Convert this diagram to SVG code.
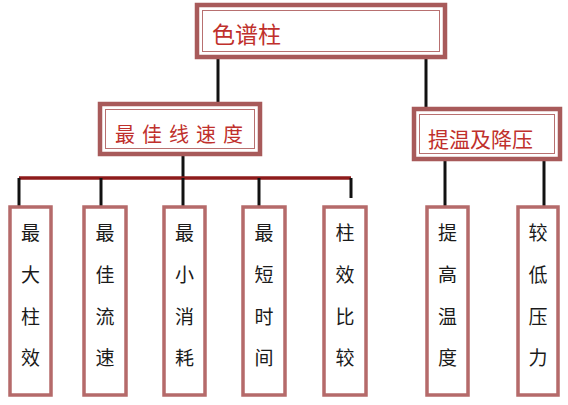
<svg xmlns="http://www.w3.org/2000/svg" width="568" height="405" viewBox="0 0 568 405">
<style>
.outer{fill:#fff;stroke:#a85a5a;stroke-width:4.5}
.inner{fill:none;stroke:#b87070;stroke-width:1}
.leaf{fill:#fff;stroke:#b56a6a;stroke-width:3.5}
.ttl{font-family:"Noto Sans CJK SC","Liberation Sans",sans-serif;fill:#c0302c}
.lt{font-family:"Noto Sans CJK SC","Liberation Sans",sans-serif;fill:#1a1a1a;font-size:19px;text-anchor:middle}
.ln{stroke:#111;stroke-width:3;fill:none}
.bar{stroke:#8e1b1b;stroke-width:3.5;fill:none}
</style>
<rect width="568" height="405" fill="#fff"/>
<g id="connectors">
<line class="ln" x1="218" y1="59" x2="218" y2="103"/>
<line class="ln" x1="426" y1="59" x2="426" y2="108"/>
<line class="ln" x1="183" y1="156" x2="183" y2="178"/>
<line class="bar" x1="19" y1="178" x2="351" y2="178"/>
<line class="ln" x1="19" y1="178" x2="19" y2="206"/>
<line class="ln" x1="101" y1="178" x2="101" y2="206"/>
<line class="ln" x1="183" y1="178" x2="183" y2="206"/>
<line class="ln" x1="259" y1="178" x2="259" y2="206"/>
<line class="ln" x1="351" y1="178" x2="351" y2="198"/>
<line class="ln" x1="445" y1="161" x2="445" y2="206"/>
<line class="ln" x1="544" y1="161" x2="544" y2="206"/>
</g>
<g id="root">
<rect class="outer" x="197" y="5" width="248" height="52"/>
<rect class="inner" x="202.5" y="10.5" width="237" height="41"/>
<text class="ttl" x="212" y="43" font-size="23">色谱柱</text>
</g>
<g id="speed">
<rect class="outer" x="100" y="104" width="160" height="50"/>
<rect class="inner" x="105.5" y="109.5" width="149" height="39"/>
<text class="ttl" x="115" y="142" font-size="20" letter-spacing="7">最佳线速度</text>
</g>
<g id="temp">
<rect class="outer" x="414" y="109" width="146" height="50"/>
<rect class="inner" x="419.5" y="114.5" width="135" height="39"/>
<text class="ttl" x="428" y="147" font-size="21">提温及降压</text>
</g>
<g id="leaf1"><rect class="leaf" x="10" y="207" width="41" height="188"/>
<text class="lt" x="30.5"><tspan x="30.5" y="240">最</tspan><tspan x="30.5" y="282">大</tspan><tspan x="30.5" y="324">柱</tspan><tspan x="30.5" y="365">效</tspan></text></g>
<g id="leaf2"><rect class="leaf" x="84" y="207" width="42" height="188"/>
<text class="lt"><tspan x="105" y="240">最</tspan><tspan x="105" y="282">佳</tspan><tspan x="105" y="324">流</tspan><tspan x="105" y="365">速</tspan></text></g>
<g id="leaf3"><rect class="leaf" x="164" y="207" width="41" height="188"/>
<text class="lt"><tspan x="184.5" y="240">最</tspan><tspan x="184.5" y="282">小</tspan><tspan x="184.5" y="324">消</tspan><tspan x="184.5" y="365">耗</tspan></text></g>
<g id="leaf4"><rect class="leaf" x="243" y="207" width="42" height="188"/>
<text class="lt"><tspan x="264" y="240">最</tspan><tspan x="264" y="282">短</tspan><tspan x="264" y="324">时</tspan><tspan x="264" y="365">间</tspan></text></g>
<g id="leaf5"><rect class="leaf" x="324" y="207" width="42" height="188"/>
<text class="lt"><tspan x="345" y="240">柱</tspan><tspan x="345" y="282">效</tspan><tspan x="345" y="324">比</tspan><tspan x="345" y="365">较</tspan></text></g>
<g id="leaf6"><rect class="leaf" x="427" y="207" width="41" height="188"/>
<text class="lt"><tspan x="447.5" y="240">提</tspan><tspan x="447.5" y="282">高</tspan><tspan x="447.5" y="324">温</tspan><tspan x="447.5" y="365">度</tspan></text></g>
<g id="leaf7"><rect class="leaf" x="518" y="207" width="40" height="188"/>
<text class="lt"><tspan x="538" y="240">较</tspan><tspan x="538" y="282">低</tspan><tspan x="538" y="324">压</tspan><tspan x="538" y="365">力</tspan></text></g>
</svg>
